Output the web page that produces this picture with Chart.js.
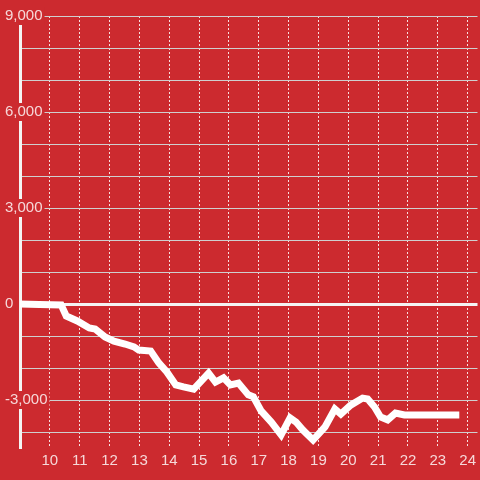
<!DOCTYPE html>
<html>
<head>
<meta charset="utf-8">
<script src="https://cdn.jsdelivr.net/npm/chart.js@4"></script>
<style>
  html, body { margin: 0; padding: 0; background: #cc2a2f; }
  canvas { display: block; }
</style>
</head>
<body>
<canvas id="c" width="480" height="480"></canvas>
<script>
// Hours of day (x) and cumulative value (y)
const hours = [8.8, 9.65, 10.38, 10.55, 10.92, 11.32, 11.52, 11.85, 12.15, 12.52, 12.82, 12.98, 13.38, 13.65, 13.92, 14.22, 14.48, 14.82, 15.32, 15.55, 15.82, 16.05, 16.32, 16.65, 16.82, 17.08, 17.42, 17.75, 18.05, 18.25, 18.48, 18.82, 19.22, 19.55, 19.75, 20.08, 20.48, 20.65, 20.88, 21.08, 21.32, 21.58, 21.88, 23.72];
const values = [0, -15, -30, -375, -530, -750, -780, -1030, -1160, -1250, -1340, -1440, -1470, -1840, -2125, -2530, -2590, -2660, -2160, -2440, -2310, -2530, -2470, -2840, -2900, -3340, -3690, -4090, -3560, -3690, -3940, -4250, -3840, -3280, -3440, -3160, -2940, -2970, -3220, -3530, -3620, -3410, -3470, -3470];
const xTickLabels = [10, 11, 12, 13, 14, 15, 16, 17, 18, 19, 20, 21, 22, 23, 24];
const yGridTicks = [9000, 8000, 7000, 6000, 5000, 4000, 3000, 2000, 1000, 0, -1000, -2000, -3000, -4000];
const yLabelledTicks = [9000, 6000, 3000, 0, -3000];

const BG = '#cc2a2f';
const LABEL = 'rgba(255,255,255,0.82)';
const FONT = { family: '"Liberation Sans", Arial, sans-serif', size: 15 };

new Chart(document.getElementById('c'), {
  type: 'line',
  data: {
    datasets: [{
      data: hours.map((h, i) => ({ x: h, y: values[i] })),
      borderColor: '#ffffff',
      borderWidth: 7,
      pointRadius: 0,
      tension: 0,
      fill: false
    }]
  },
  options: {
    responsive: false,
    animation: false,
    layout: { padding: { top: 16, left: 4, right: 0, bottom: 0 } },
    plugins: { legend: { display: false }, tooltip: { enabled: false } },
    scales: {
      x: {
        type: 'linear',
        min: 9,
        max: 24.33,
        grid: { color: 'rgba(255,255,255,0.85)', lineWidth: 1, drawTicks: false },
        border: { display: false, dash: [2, 2] },
        afterBuildTicks: (s) => { s.ticks = xTickLabels.map(v => ({ value: v })); },
        ticks: {
          autoSkip: false,
          maxRotation: 0,
          color: LABEL,
          font: FONT,
          padding: 4,
          callback: (v) => String(v)
        },
        afterFit: (s) => { s.height = 32; }
      },
      y: {
        type: 'linear',
        min: -4500,
        max: 9000,
        grid: {
          drawTicks: false,
          color: (ctx) => ctx.tick && ctx.tick.value === 0 ? '#f4f4f4' : '#cfcfcf',
          lineWidth: (ctx) => ctx.tick && ctx.tick.value === 0 ? 3 : 1
        },
        border: { display: true, color: '#f4f4f4', width: 3 },
        afterBuildTicks: (s) => { s.ticks = yGridTicks.map(v => ({ value: v })); },
        ticks: {
          autoSkip: false,
          mirror: true,
          crossAlign: 'near',
          padding: -15,
          color: LABEL,
          font: FONT,
          z: 1,
          showLabelBackdrop: (ctx) => !!(ctx.tick && yLabelledTicks.includes(ctx.tick.value)),
          backdropColor: BG,
          backdropPadding: { top: 0, bottom: 0, left: 2, right: 2 },
          callback: (v) => yLabelledTicks.includes(v) ? v.toLocaleString('en-US') : ''
        },
        afterFit: (s) => { s.width = 16; }
      }
    }
  }
});
</script>
</body>
</html>
